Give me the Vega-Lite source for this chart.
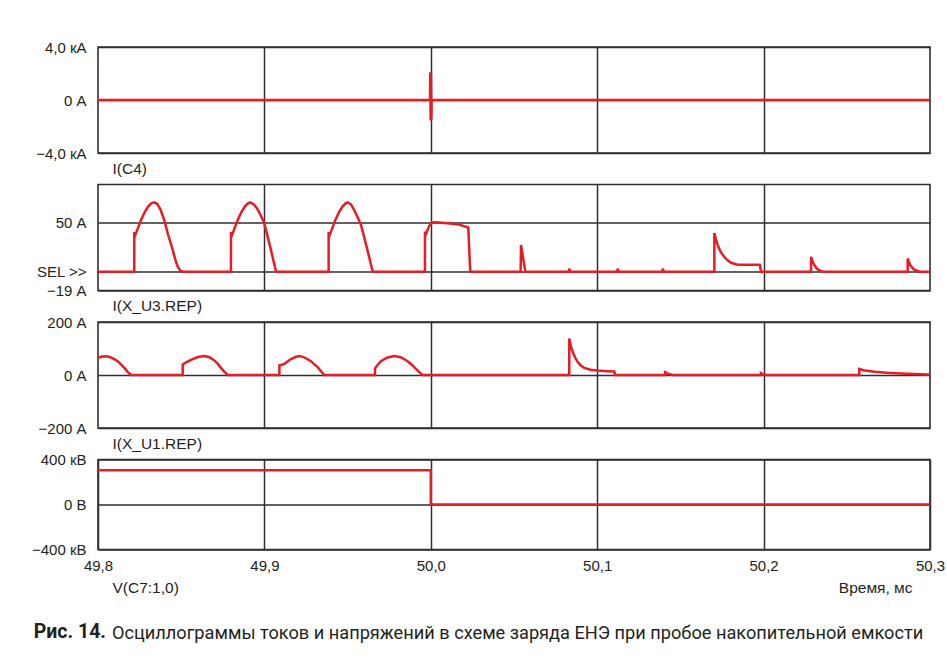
{
  "$schema": "https://vega.github.io/schema/vega-lite/v6.json",
  "background": "white",
  "padding": {"left": 30, "top": 39, "right": 3, "bottom": 5},
  "bounds": "flush",
  "spacing": 31.5,
  "config": {
    "font": "Liberation Sans",
    "view": {"stroke": "#2e2e2e", "strokeWidth": 1.6},
    "axis": {
      "labelFont": "Liberation Sans",
      "labelFontSize": 15,
      "labelColor": "#231f20",
      "labelOverlap": false,
      "labelFlush": false,
      "titleFont": "Liberation Sans",
      "titleFontSize": 15.5,
      "titleFontWeight": "normal",
      "titleColor": "#231f20",
      "domain": false,
      "ticks": false,
      "grid": true,
      "gridColor": "#2e2e2e",
      "gridOpacity": 1,
      "gridWidth": 1.5
    },
    "line": {"color": "#e81c24", "strokeWidth": 2.5, "clip": true}
  },
  "title": {
    "text": "Рис. 14.",
    "orient": "bottom",
    "anchor": "start",
    "font": "Roboto",
    "fontSize": 19.5,
    "fontWeight": "bold",
    "color": "#231f20",
    "dx": 3,
    "dy": -24
  },
  "datasets": {
    "c4": [
      {"t": 49.8, "v": 0}, {"t": 49.9995, "v": 0}, {"t": 49.9997, "v": 2.1}, {"t": 49.9999, "v": -1.55},
      {"t": 50.0001, "v": 2.0}, {"t": 50.0003, "v": -1.5}, {"t": 50.0005, "v": 0}, {"t": 50.3, "v": 0}
    ],
    "u3": [
      {"t": 49.8, "v": 0}, {"t": 49.8218, "v": 0}, {"t": 49.8218, "v": 40}, {"t": 49.8222, "v": 36},
      {"t": 49.824, "v": 44}, {"t": 49.8258, "v": 52}, {"t": 49.828, "v": 60}, {"t": 49.83, "v": 65.5},
      {"t": 49.832, "v": 69}, {"t": 49.8338, "v": 70}, {"t": 49.8355, "v": 68.5}, {"t": 49.8375, "v": 63},
      {"t": 49.8398, "v": 52}, {"t": 49.842, "v": 38}, {"t": 49.8449, "v": 22}, {"t": 49.8465, "v": 12},
      {"t": 49.8479, "v": 5}, {"t": 49.8495, "v": 1}, {"t": 49.8509, "v": 0},
      {"t": 49.8799, "v": 0}, {"t": 49.8799, "v": 40}, {"t": 49.8803, "v": 36}, {"t": 49.8821, "v": 44},
      {"t": 49.8839, "v": 52}, {"t": 49.8861, "v": 60}, {"t": 49.8881, "v": 65.5}, {"t": 49.8901, "v": 69},
      {"t": 49.8915, "v": 70}, {"t": 49.8935, "v": 68}, {"t": 49.8955, "v": 64}, {"t": 49.8975, "v": 58},
      {"t": 49.8999, "v": 49}, {"t": 49.9035, "v": 25}, {"t": 49.907, "v": 0},
      {"t": 49.9386, "v": 0}, {"t": 49.9386, "v": 40}, {"t": 49.939, "v": 36}, {"t": 49.9408, "v": 44},
      {"t": 49.9426, "v": 52}, {"t": 49.9448, "v": 60}, {"t": 49.9468, "v": 65.5}, {"t": 49.9488, "v": 69},
      {"t": 49.9501, "v": 70}, {"t": 49.952, "v": 68}, {"t": 49.954, "v": 62}, {"t": 49.956, "v": 55},
      {"t": 49.9581, "v": 47}, {"t": 49.9616, "v": 24}, {"t": 49.9651, "v": 0},
      {"t": 49.9965, "v": 0}, {"t": 49.9965, "v": 40.5}, {"t": 49.9969, "v": 37}, {"t": 49.999, "v": 46},
      {"t": 50.0005, "v": 49.6}, {"t": 50.003, "v": 50}, {"t": 50.01, "v": 49}, {"t": 50.017, "v": 47.5},
      {"t": 50.0225, "v": 44.6}, {"t": 50.0237, "v": 0},
      {"t": 50.054, "v": 0}, {"t": 50.0542, "v": 27}, {"t": 50.0568, "v": 0},
      {"t": 50.083, "v": 0}, {"t": 50.0832, "v": 3}, {"t": 50.0838, "v": 0},
      {"t": 50.1121, "v": 0}, {"t": 50.1123, "v": 3}, {"t": 50.1129, "v": 0},
      {"t": 50.1392, "v": 0}, {"t": 50.1394, "v": 3}, {"t": 50.14, "v": 0},
      {"t": 50.1704, "v": 0}, {"t": 50.1704, "v": 39}, {"t": 50.1714, "v": 32}, {"t": 50.1724, "v": 27},
      {"t": 50.1739, "v": 21}, {"t": 50.1754, "v": 17}, {"t": 50.1769, "v": 13.8}, {"t": 50.1784, "v": 11.4},
      {"t": 50.1805, "v": 9}, {"t": 50.1844, "v": 7}, {"t": 50.1978, "v": 7}, {"t": 50.1984, "v": 0},
      {"t": 50.2285, "v": 0}, {"t": 50.2285, "v": 15}, {"t": 50.23, "v": 8}, {"t": 50.232, "v": 3},
      {"t": 50.2345, "v": 0.5}, {"t": 50.2365, "v": 0},
      {"t": 50.2866, "v": 0}, {"t": 50.2866, "v": 13.4}, {"t": 50.288, "v": 7}, {"t": 50.29, "v": 2.5},
      {"t": 50.2936, "v": 0}, {"t": 50.3, "v": 0}
    ],
    "u1": [
      {"t": 49.8, "v": 65}, {"t": 49.8024, "v": 70}, {"t": 49.8048, "v": 71}, {"t": 49.807, "v": 68},
      {"t": 49.8095, "v": 61}, {"t": 49.8118, "v": 52}, {"t": 49.8138, "v": 40}, {"t": 49.8158, "v": 27},
      {"t": 49.8178, "v": 12}, {"t": 49.8198, "v": 0},
      {"t": 49.8509, "v": 0}, {"t": 49.8509, "v": 40}, {"t": 49.853, "v": 48}, {"t": 49.8559, "v": 57},
      {"t": 49.86, "v": 68}, {"t": 49.8639, "v": 72}, {"t": 49.867, "v": 67}, {"t": 49.8699, "v": 55},
      {"t": 49.872, "v": 42}, {"t": 49.8739, "v": 27}, {"t": 49.876, "v": 12}, {"t": 49.8779, "v": 0},
      {"t": 49.909, "v": 0}, {"t": 49.909, "v": 36}, {"t": 49.912, "v": 42}, {"t": 49.916, "v": 60},
      {"t": 49.919, "v": 69}, {"t": 49.9214, "v": 72}, {"t": 49.9245, "v": 65}, {"t": 49.928, "v": 52},
      {"t": 49.93, "v": 40}, {"t": 49.932, "v": 30}, {"t": 49.934, "v": 14}, {"t": 49.936, "v": 0},
      {"t": 49.9665, "v": 0}, {"t": 49.9665, "v": 25}, {"t": 49.968, "v": 38}, {"t": 49.97, "v": 52},
      {"t": 49.974, "v": 66}, {"t": 49.978, "v": 72}, {"t": 49.982, "v": 67}, {"t": 49.9861, "v": 52},
      {"t": 49.989, "v": 36}, {"t": 49.9911, "v": 23}, {"t": 49.9935, "v": 8}, {"t": 49.9951, "v": 0},
      {"t": 50.0832, "v": 0}, {"t": 50.0832, "v": 138}, {"t": 50.0842, "v": 108}, {"t": 50.0853, "v": 87},
      {"t": 50.0868, "v": 65}, {"t": 50.0883, "v": 49}, {"t": 50.09, "v": 37}, {"t": 50.0922, "v": 27},
      {"t": 50.096, "v": 20}, {"t": 50.1003, "v": 17}, {"t": 50.106, "v": 14.5}, {"t": 50.1103, "v": 13},
      {"t": 50.1107, "v": 0},
      {"t": 50.1409, "v": 0}, {"t": 50.1409, "v": 10}, {"t": 50.1425, "v": 5}, {"t": 50.1453, "v": 0},
      {"t": 50.1984, "v": 0}, {"t": 50.1984, "v": 7}, {"t": 50.2002, "v": 0},
      {"t": 50.2575, "v": 0}, {"t": 50.2575, "v": 23}, {"t": 50.26, "v": 18}, {"t": 50.2665, "v": 12},
      {"t": 50.274, "v": 8.5}, {"t": 50.2826, "v": 6}, {"t": 50.29, "v": 4}, {"t": 50.2986, "v": 2},
      {"t": 50.3, "v": 1.8}
    ],
    "c7": [
      {"t": 49.8, "v": 305}, {"t": 50.0, "v": 305}, {"t": 50.0, "v": 0}, {"t": 50.3, "v": 0}
    ]
  },
  "vconcat": [
    {
      "width": 832, "height": 106,
      "data": {"name": "c4"},
      "mark": {"type": "line"},
      "encoding": {
        "x": {"field": "t", "type": "quantitative", "scale": {"domain": [49.8, 50.3], "nice": false, "zero": false},
          "axis": {"values": [49.9, 50.0, 50.1, 50.2], "labels": false, "title": "I(C4)", "titleAnchor": "start", "titleAlign": "left", "titleBaseline": "middle", "titleX": 14, "titleY": 15}},
        "y": {"field": "v", "type": "quantitative", "scale": {"domain": [-4, 4], "nice": false, "zero": false},
          "axis": {"values": [-4, 0, 4], "labelPadding": 12, "title": null, "labelExpr": "datum.value > 0 ? '4,0 кА' : (datum.value < 0 ? '−4,0 кА' : '0 А')"}},
        "order": {"value": null}
      }
    },
    {
      "width": 832, "height": 106,
      "data": {"name": "u3"},
      "mark": {"type": "line"},
      "encoding": {
        "x": {"field": "t", "type": "quantitative", "scale": {"domain": [49.8, 50.3], "nice": false, "zero": false},
          "axis": {"values": [49.9, 50.0, 50.1, 50.2], "labels": false, "title": "I(X_U3.REP)", "titleAnchor": "start", "titleAlign": "left", "titleBaseline": "middle", "titleX": 14, "titleY": 15}},
        "y": {"field": "v", "type": "quantitative", "scale": {"domain": [-19, 88], "nice": false, "zero": false},
          "axis": {"values": [-19, 0, 50], "labelPadding": 12, "title": null,
            "labelExpr": "datum.value > 0 ? '50 А' : (datum.value < 0 ? '−19 А' : 'SEL >>')"}},
        "order": {"value": null}
      }
    },
    {
      "width": 832, "height": 106,
      "data": {"name": "u1"},
      "mark": {"type": "line"},
      "encoding": {
        "x": {"field": "t", "type": "quantitative", "scale": {"domain": [49.8, 50.3], "nice": false, "zero": false},
          "axis": {"values": [49.9, 50.0, 50.1, 50.2], "labels": false, "title": "I(X_U1.REP)", "titleAnchor": "start", "titleAlign": "left", "titleBaseline": "middle", "titleX": 14, "titleY": 15}},
        "y": {"field": "v", "type": "quantitative", "scale": {"domain": [-200, 200], "nice": false, "zero": false},
          "axis": {"values": [-200, 0, 200], "labelPadding": 12, "title": null,
            "labelExpr": "datum.value > 0 ? '200 А' : (datum.value < 0 ? '−200 А' : '0 А')"}},
        "order": {"value": null}
      }
    },
    {
      "width": 832, "height": 90,
      "title": {
        "text": "Осциллограммы токов и напряжений в схеме заряда ЕНЭ при пробое накопительной емкости",
        "orient": "bottom",
        "anchor": "start",
        "frame": "group",
        "font": "Roboto",
        "fontSize": 18.2,
        "fontWeight": "normal",
        "color": "#231f20",
        "dx": 14,
        "offset": 29
      },
      "layer": [
        {
          "data": {"name": "c7"},
          "mark": {"type": "line"},
          "encoding": {
            "x": {"field": "t", "type": "quantitative", "scale": {"domain": [49.8, 50.3], "nice": false, "zero": false},
              "axis": {"orient": "bottom", "values": [49.8, 49.9, 50.0, 50.1, 50.2, 50.3], "labelPadding": 9,
                "labelExpr": "replace(format(datum.value, '.1f'), '.', ',')",
                "title": "V(C7:1,0)", "titleAnchor": "start", "titleAlign": "left", "titleBaseline": "middle", "titleX": 14, "titleY": 38}},
            "y": {"field": "v", "type": "quantitative", "scale": {"domain": [-400, 400], "nice": false, "zero": false},
              "axis": {"values": [-400, 0, 400], "labelPadding": 12, "title": null,
                "labelExpr": "datum.value > 0 ? '400 кВ' : (datum.value < 0 ? '−400 кВ' : '0 В')"}},
            "order": {"value": null}
          }
        },
        {
          "data": {"name": "c7"},
          "mark": {"type": "line", "opacity": 0},
          "encoding": {
            "x": {"field": "t", "type": "quantitative",
              "axis": {"orient": "bottom", "labels": false, "grid": false, "title": "Время, мс", "titleAnchor": "end", "titleAlign": "right", "titleBaseline": "middle", "titleX": 814, "titleY": 38}},
            "y": {"field": "v", "type": "quantitative"},
            "order": {"value": null}
          }
        }
      ],
      "resolve": {"axis": {"x": "independent"}}
    }
  ]
}
